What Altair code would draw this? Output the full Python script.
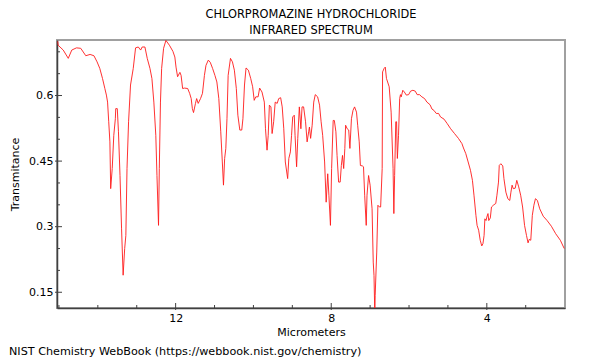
import altair as alt
import pandas as pd

wavelength = [
    15.03, 15.02, 14.89, 14.76, 14.67, 14.55, 14.44, 14.31, 14.20, 14.10,
    14.02, 13.95, 13.88, 13.82, 13.78, 13.75, 13.72, 13.69, 13.67, 13.63,
    13.59, 13.55, 13.54, 13.50, 13.47, 13.43, 13.39, 13.35, 13.31, 13.28,
    13.25, 13.21, 13.16, 13.09, 13.03, 12.96, 12.90, 12.86, 12.79, 12.73,
    12.66, 12.61, 12.56, 12.51, 12.48, 12.44, 12.42, 12.39, 12.36, 12.31,
    12.25, 12.16, 12.07, 12.02, 11.99, 11.95, 11.89, 11.86, 11.82, 11.77,
    11.69, 11.64, 11.60, 11.57, 11.54, 11.49, 11.46, 11.42, 11.36, 11.31,
    11.26, 11.22, 11.16, 11.11, 11.05, 10.99, 10.94, 10.89, 10.84, 10.80,
    10.77, 10.74, 10.71, 10.68, 10.65, 10.59, 10.54, 10.49, 10.44, 10.40,
    10.35, 10.30, 10.27, 10.23, 10.19, 10.13, 10.07, 10.02, 9.98, 9.94,
    9.88, 9.84, 9.78, 9.72, 9.69, 9.65, 9.62, 9.59, 9.55, 9.52,
    9.48, 9.44, 9.39, 9.35, 9.30, 9.26, 9.22, 9.18, 9.12, 9.09,
    9.05, 9.02, 8.99, 8.95, 8.93, 8.89, 8.86, 8.82, 8.78, 8.75,
    8.71, 8.66, 8.62, 8.58, 8.56, 8.53, 8.49, 8.45, 8.41, 8.35,
    8.30, 8.26, 8.22, 8.17, 8.13, 8.09, 8.06, 8.02, 7.99, 7.95,
    7.92, 7.88, 7.85, 7.81, 7.77, 7.74, 7.71, 7.68, 7.65, 7.63,
    7.59, 7.55, 7.52, 7.48, 7.44, 7.40, 7.35, 7.32, 7.28, 7.25,
    7.20, 7.17, 7.14, 7.10, 7.08, 7.04, 7.00, 6.95, 6.92, 6.90,
    6.88, 6.87, 6.83, 6.80, 6.76, 6.73, 6.69, 6.68, 6.64, 6.61,
    6.58, 6.51, 6.46, 6.41, 6.39, 6.37, 6.34, 6.32, 6.30, 6.27,
    6.24, 6.22, 6.20, 6.16, 6.12, 6.07, 6.01, 5.96, 5.90, 5.84,
    5.79, 5.73, 5.67, 5.60, 5.54, 5.46, 5.41, 5.36, 5.30, 5.24,
    5.19, 5.10, 5.02, 4.93, 4.83, 4.73, 4.64, 4.60, 4.54, 4.48,
    4.42, 4.37, 4.33, 4.28, 4.25, 4.21, 4.17, 4.13, 4.10, 4.07,
    4.05, 4.02, 4.00, 3.97, 3.95, 3.91, 3.88, 3.82, 3.77, 3.74,
    3.70, 3.68, 3.64, 3.59, 3.56, 3.51, 3.46, 3.41, 3.38, 3.35,
    3.32, 3.27, 3.23, 3.18, 3.13, 3.08, 3.03, 2.98, 2.94, 2.91,
    2.87, 2.83, 2.79, 2.75, 2.70, 2.64, 2.55, 2.45, 2.34, 2.23,
    2.11, 2.01,
]
transmittance = [
    0.724, 0.715, 0.704, 0.685, 0.704, 0.709, 0.708, 0.691, 0.694, 0.691,
    0.677, 0.662, 0.639, 0.616, 0.601, 0.585, 0.540, 0.494, 0.387, 0.433,
    0.509, 0.547, 0.570, 0.570, 0.517, 0.417, 0.295, 0.189, 0.250, 0.280,
    0.433, 0.540, 0.624, 0.662, 0.709, 0.711, 0.704, 0.711, 0.711, 0.685,
    0.662, 0.639, 0.585, 0.509, 0.417, 0.303, 0.433, 0.585, 0.662, 0.708,
    0.726, 0.715, 0.701, 0.688, 0.665, 0.643, 0.653, 0.646, 0.616, 0.617,
    0.616, 0.605, 0.593, 0.570, 0.561, 0.582, 0.593, 0.582, 0.593, 0.605,
    0.646, 0.669, 0.681, 0.676, 0.662, 0.646, 0.631, 0.593, 0.517, 0.448,
    0.395, 0.456, 0.479, 0.547, 0.646, 0.685, 0.677, 0.658, 0.616, 0.555,
    0.521, 0.521, 0.547, 0.624, 0.663, 0.658, 0.639, 0.620, 0.589, 0.597,
    0.597, 0.617, 0.608, 0.585, 0.524, 0.475, 0.509, 0.578, 0.574, 0.513,
    0.540, 0.585, 0.582, 0.593, 0.595, 0.574, 0.524, 0.448, 0.410, 0.456,
    0.471, 0.509, 0.551, 0.555, 0.509, 0.437, 0.502, 0.574, 0.524, 0.574,
    0.574, 0.540, 0.494, 0.517, 0.528, 0.502, 0.532, 0.585, 0.602, 0.597,
    0.578, 0.540, 0.509, 0.448, 0.356, 0.421, 0.372, 0.303, 0.433, 0.543,
    0.543, 0.517, 0.463, 0.402, 0.402, 0.440, 0.463, 0.433, 0.479, 0.532,
    0.524, 0.521, 0.479, 0.547, 0.566, 0.574, 0.562, 0.532, 0.494, 0.440,
    0.439, 0.437, 0.372, 0.303, 0.372, 0.417, 0.395, 0.341, 0.219, 0.188,
    0.100, 0.143, 0.242, 0.349, 0.345, 0.345, 0.433, 0.654, 0.662, 0.665,
    0.639, 0.620, 0.562, 0.433, 0.330, 0.417, 0.540, 0.540, 0.456, 0.509,
    0.593, 0.602, 0.597, 0.612, 0.608, 0.601, 0.602, 0.610, 0.612, 0.610,
    0.602, 0.602, 0.597, 0.593, 0.585, 0.579, 0.569, 0.566, 0.559, 0.559,
    0.551, 0.546, 0.536, 0.524, 0.513, 0.502, 0.490, 0.480, 0.467, 0.448,
    0.429, 0.406, 0.372, 0.326, 0.303, 0.292, 0.269, 0.256, 0.261, 0.280,
    0.318, 0.314, 0.322, 0.330, 0.314, 0.320, 0.345, 0.350, 0.353, 0.372,
    0.402, 0.440, 0.444, 0.439, 0.410, 0.379, 0.364, 0.360, 0.379, 0.395,
    0.387, 0.388, 0.406, 0.391, 0.372, 0.345, 0.303, 0.280, 0.263, 0.271,
    0.269, 0.326, 0.349, 0.364, 0.360, 0.341, 0.324, 0.314, 0.301, 0.284,
    0.269, 0.250,
]

x_major = [12, 8, 4]
x_minor = [15, 14, 13, 11, 10, 9, 7, 6, 5, 3]
y_major = [0.15, 0.3, 0.45, 0.6]
y_minor = [0.2, 0.25, 0.35, 0.4, 0.5, 0.55, 0.65, 0.7]
x_domain = [1.99, 15.05]
y_domain = [0.114, 0.727]
title_lines = ["CHLORPROMAZINE HYDROCHLORIDE", "INFRARED SPECTRUM"]
x_title = "Micrometers"
y_title = "Transmitance"
footer = "NIST Chemistry WebBook (https://webbook.nist.gov/chemistry)"

df = pd.DataFrame({"um": wavelength, "t": transmittance, "i": list(range(len(wavelength)))})

W, H = 508, 268
FONT = "DejaVu Sans"
AX = "#404040"
xs = alt.Scale(domain=x_domain, reverse=True, nice=False, zero=False)
ys = alt.Scale(domain=y_domain, nice=False, zero=False)

line = alt.Chart(df).mark_line(color="#ff1a1a", strokeWidth=0.9, clip=True).encode(
    x=alt.X("um:Q", scale=xs, axis=alt.Axis(
        values=x_major, ticks=False, grid=False, domainColor=AX, domainWidth=1.5,
        labelFont=FONT, labelFontSize=11, labelColor="#000", labelPadding=4,
        title=x_title, titleFont=FONT, titleFontSize=11, titleFontWeight="normal",
        titleColor="#000", titlePadding=3)),
    y=alt.Y("t:Q", scale=ys, axis=alt.Axis(
        values=y_major, format=".2~f", ticks=False, grid=False, domainColor=AX, domainWidth=1.5,
        labelFont=FONT, labelFontSize=11, labelColor="#000", labelPadding=4,
        title=y_title, titleFont=FONT, titleFontSize=11, titleFontWeight="normal",
        titleColor="#000", titleX=-42, titleY=H / 2, titleAngle=270,
        titleAlign="center", titleBaseline="middle")),
    order="i:Q",
)

xmaj = alt.Chart(pd.DataFrame({"um": x_major})).mark_rule(color=AX, strokeWidth=1).encode(
    x=alt.X("um:Q", scale=xs), y=alt.value(H + 2), y2=alt.value(H - 5))
xmin = alt.Chart(pd.DataFrame({"um": x_minor})).mark_rule(color=AX, strokeWidth=1).encode(
    x=alt.X("um:Q", scale=xs), y=alt.value(H), y2=alt.value(H - 3))
ymaj = alt.Chart(pd.DataFrame({"t": y_major})).mark_rule(color=AX, strokeWidth=1).encode(
    y=alt.Y("t:Q", scale=ys), x=alt.value(-2), x2=alt.value(5))
ymin = alt.Chart(pd.DataFrame({"t": y_minor})).mark_rule(color=AX, strokeWidth=1).encode(
    y=alt.Y("t:Q", scale=ys), x=alt.value(0), x2=alt.value(3))

foot = alt.Chart(pd.DataFrame({"txt": [footer]})).mark_text(
    align="left", baseline="middle", font=FONT, fontSize=11.2, color="#000"
).encode(x=alt.value(-48), y=alt.value(312), text="txt:N")

chart = alt.layer(line, xmin, xmaj, ymin, ymaj, foot).properties(
    width=W, height=H,
    title=alt.TitleParams(text=title_lines, font=FONT, fontSize=11.4, fontWeight="normal",
                          color="#000", lineHeight=16, anchor="middle", offset=4),
    padding={"left": 49, "top": 32, "right": 27, "bottom": 51},
    autosize="none",
).configure_view(stroke="#a0a0a0", strokeWidth=2)

chart.save("out.html", embed_options={"renderer": "svg", "actions": False})
